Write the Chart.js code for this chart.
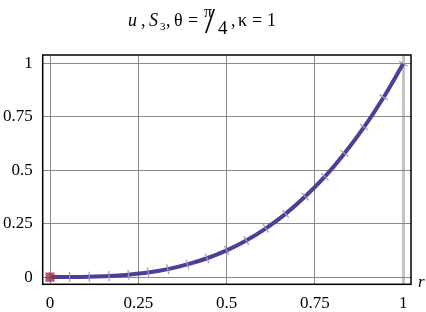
<!DOCTYPE html>
<html>
<head>
<meta charset="utf-8">
<script src="https://cdn.jsdelivr.net/npm/chart.js@4/dist/chart.umd.min.js"></script>
<style>
  body { margin: 0; background: #fff; }
</style>
</head>
<body>
<canvas id="myChart" width="426" height="312"></canvas>
<script>
let r = [0, 0.0556, 0.1111, 0.1667, 0.2222, 0.2778, 0.3333, 0.3889, 0.4444, 0.5,
         0.5556, 0.6111, 0.6667, 0.7222, 0.7778, 0.8333, 0.8889, 0.9444, 1];
let u = [0, 0.0002, 0.0014, 0.0046, 0.011, 0.021, 0.037, 0.059, 0.088, 0.125,
         0.171, 0.228, 0.296, 0.377, 0.470, 0.579, 0.702, 0.842, 1.0];
let xTicks = [0, 0.25, 0.5, 0.75, 1];
let yTicks = [0, 0.25, 0.5, 0.75, 1];
let tickText = {0: "0", 0.25: "0.25", 0.5: "0.5", 0.75: "0.75", 1: "1"};

// title pieces: text, x, baseline, size, italic
let titleParts = [
  ["u", 128, 26, 18, true],
  [",", 141, 26, 18, false],
  ["S", 149, 26, 18, true],
  ["3", 160, 29.5, 11, false],
  [",", 166, 26, 18, false],
  ["θ", 174, 26, 18, false],
  ["=", 188, 26, 18, false],
  ["π", 204, 16.5, 16, false],
  ["/", 205, 33, 36, false],
  ["4", 218, 33.5, 19, false],
  [",", 231, 26, 18, false],
  ["κ", 238, 26, 18, false],
  ["=", 252, 26, 18, false],
  ["1", 267, 26, 18, false],
];

let pts = [];
for (let i = 0; i < r.length; i++) {
  pts.push({x: r[i], y: u[i]});
}

const serif = "Liberation Serif, Times New Roman, Times, serif";

const frame = {
  id: "frame",
  afterDraw(chart) {
    const c = chart.ctx, a = chart.chartArea;
    c.save();
    c.strokeStyle = "#000";
    c.lineWidth = 1.5;
    c.strokeRect(a.left, a.top, a.right - a.left, a.bottom - a.top);
    c.fillStyle = "#000";
    c.font = "italic 17px " + serif;
    c.textBaseline = "middle";
    c.fillText("r", a.right + 7, a.bottom - 2);
    c.textBaseline = "alphabetic";
    c.textAlign = "left";
    for (const p of titleParts) {
      c.font = (p[4] ? "italic " : "") + p[3] + "px " + serif;
      c.fillText(p[0], p[1], p[2]);
    }
    c.restore();
  }
};

// rotate each marker so it crosses the curve at right angles
function tickAngle(ctx) {
  const ch = ctx.chart;
  const i = ctx.dataIndex;
  const xs = ch.scales.x, ys = ch.scales.y;
  if (!xs || !ys) return 90;
  const a = pts[Math.max(i - 1, 0)], b = pts[Math.min(i + 1, pts.length - 1)];
  const dx = xs.getPixelForValue(b.x) - xs.getPixelForValue(a.x);
  const dy = ys.getPixelForValue(b.y) - ys.getPixelForValue(a.y);
  return Math.atan2(dy, dx) * 180 / Math.PI + 90;
}

const ctx = document.getElementById("myChart");
let ch = new Chart(ctx, {
  type: "line",
  data: {
    datasets: [
      {
        label: "origin",
        data: [{x: 0, y: 0}],
        showLine: false,
        pointStyle: "rect",
        pointRadius: 6.5,
        backgroundColor: "rgba(160,45,75,0.8)",
        borderColor: "rgba(160,45,75,0.8)",
        pointBackgroundColor: "rgba(160,45,75,0.8)",
        pointBorderWidth: 0,
        order: 0,
      },
      {
        label: "u",
        data: pts,
        borderColor: "#4b3f98",
        borderWidth: 4,
        cubicInterpolationMode: "monotone",
        pointStyle: "line",
        pointRadius: 5,
        pointRotation: tickAngle,
        pointBorderColor: "rgba(160,150,195,0.95)",
        pointBorderWidth: 1.3,
        fill: false,
        order: 1,
      },
    ],
  },
  options: {
    responsive: false,
    animation: false,
    layout: { padding: { left: 0, right: 15, top: 55, bottom: 0 } },
    plugins: { legend: { display: false }, title: { display: false }, tooltip: { enabled: false } },
    scales: {
      x: {
        type: "linear",
        min: -0.0207,
        max: 1.0218,
        afterBuildTicks: (s) => { s.ticks = xTicks.map(v => ({value: v})); },
        afterFit: (s) => { s.height = 27.7; },
        ticks: {
          color: "#000",
          font: { family: serif, size: 17 },
          padding: 9,
          maxRotation: 0,
          callback: (v) => tickText[v],
        },
        grid: {
          color: (c) => c.tick && c.tick.value === 1 ? "#c4c4c4" : "#8a8a8a",
          lineWidth: (c) => c.tick && c.tick.value === 1 ? 3 : 1,
          drawTicks: false,
        },
        border: { display: false },
      },
      y: {
        type: "linear",
        min: -0.034,
        max: 1.04,
        afterBuildTicks: (s) => { s.ticks = yTicks.map(v => ({value: v})); },
        afterFit: (s) => { s.width = 42.7; },
        ticks: {
          color: "#000",
          font: { family: serif, size: 17 },
          padding: 10,
          callback: (v) => tickText[v],
        },
        grid: { color: "#8a8a8a", lineWidth: 1, drawTicks: false },
        border: { display: false },
      },
    },
  },
  plugins: [frame],
});
</script>
</body>
</html>
